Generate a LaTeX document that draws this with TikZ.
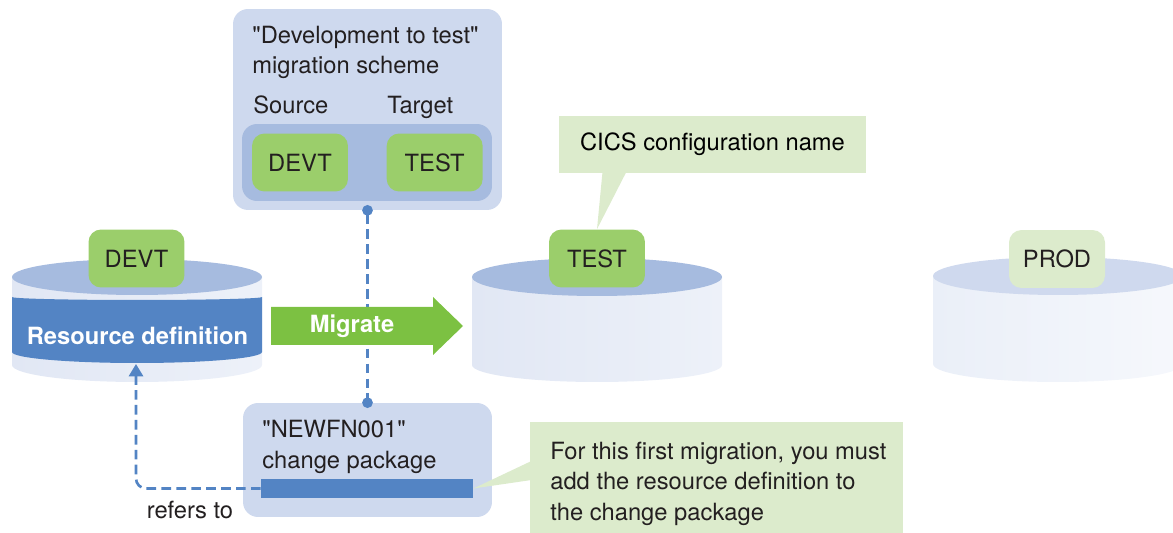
\documentclass[tikz,border=0pt]{standalone}
\usepackage{fontspec}
\setmainfont{TeX Gyre Heros}
\usetikzlibrary{arrows.meta,positioning}

\definecolor{schemeblue}{HTML}{CED9EE}
\definecolor{midblue}{HTML}{A6BBDF}
\definecolor{darkblue}{HTML}{5384C4}
\definecolor{cfggreen}{HTML}{9BCE6B}
\definecolor{palegreen}{HTML}{DCEBCC}
\definecolor{arrowgreen}{HTML}{7CC142}
\definecolor{cylleft}{HTML}{E1E7F4}
\definecolor{cylright}{HTML}{EDF1F9}
\definecolor{prodtop}{HTML}{CFD9EE}
\definecolor{prodleft}{HTML}{EAEFF8}
\definecolor{prodright}{HTML}{F6F8FC}
\definecolor{inkgray}{HTML}{231F20}

\begin{document}
\begin{tikzpicture}[x=0.02cm,y=-0.02cm,
        font=\fontsize{13.5}{17.3}\selectfont,
        txt/.style={inner sep=0pt,text=inkgray},
        boldtxt/.style={inner sep=0pt,text=white,font=\fontsize{13.5}{17.3}\selectfont\bfseries},
        cfg node/.style={rounded corners=0.25cm,fill=cfggreen,minimum width=1.92cm,minimum height=1.16cm,inner sep=0pt,text=inkgray},
        panel/.style={rounded corners=0.3cm,fill=schemeblue,inner sep=0pt},
        note/.style={fill=palegreen,inner sep=0pt},
        dashline/.style={darkblue,line width=1.5pt,dash pattern=on 5.5pt off 3pt}]

    \useasboundingbox (0,0) rectangle (1173,533);

    % migration scheme
    \node[panel,minimum width=5.38cm,minimum height=4.02cm] (scheme) at (367.5,109.5) {};
    \node[txt,anchor=base west,align=left] (schemetitle) at (252,74) {\textquotedbl Development to test\textquotedbl\\migration scheme};
    \node[txt,anchor=base west] (source) at (253,114) {Source};
    \node[txt,anchor=base west] (target) at (387,114) {Target};
    \node[rounded corners=0.3cm,fill=midblue,minimum width=5cm,minimum height=1.54cm,inner sep=0pt] (pair) at (367,162.5) {};
    \node[cfg node] (src) at (300,162.5) {DEVT};
    \node[cfg node] (tgt) [right=0.76cm of src] {TEST};

    % change package
    \node[panel,minimum width=4.98cm,minimum height=2.28cm] (pkg) at (367.5,460) {};
    \node[txt,anchor=base west,align=left] (pkgname) at (262,468) {\textquotedbl NEWFN001\textquotedbl\\change package};
    \node[fill=darkblue,minimum width=4.24cm,minimum height=0.38cm,inner sep=0pt] (bar) at (367,488.5) {};

    % DEVT cylinder
    \shade[left color=cylleft,right color=cylright] (12,277) -- (12,365) arc[start angle=180,end angle=0,x radius=125,y radius=17] -- (262,277) -- cycle;
    \fill[darkblue] (12,297) -- (12,352) arc[start angle=180,end angle=0,x radius=125,y radius=11] -- (262,297) arc[start angle=0,end angle=180,x radius=125,y radius=3] -- cycle;
    \fill[midblue] (137,277) ellipse[x radius=125,y radius=18];

    % TEST cylinder
    \shade[left color=cylleft,right color=cylright] (472,277) -- (472,365) arc[start angle=180,end angle=0,x radius=125,y radius=17] -- (722,277) -- cycle;
    \fill[midblue] (597,277) ellipse[x radius=125,y radius=19];

    % PROD cylinder
    \shade[left color=prodleft,right color=prodright] (933,276) -- (933,364) arc[start angle=180,end angle=0,x radius=125,y radius=18] -- (1183,276) -- cycle;
    \fill[prodtop] (1058,276) ellipse[x radius=125,y radius=19];

    \node[cfg node] (devt) at (136.5,258.5) {DEVT};
    \node[cfg node] (test) at (597,258.5) {TEST};
    \node[cfg node,fill=palegreen] (prod) at (1057,259) {PROD};
    \node[boldtxt] (resdef) at (137.5,336) {Resource definition};

    \draw[dashline,{Circle[length=6pt]}-{Circle[length=6pt]},shorten <=-3pt,shorten >=-3pt] (scheme) -- (pkg);

    % migrate arrow
    \fill[arrowgreen] (271,307) -- (433,307) -- (433,297) -- (463,326) -- (433,355) -- (433,345) -- (271,345) -- cycle;
    \node[boldtxt] (migrate) at (352,326.5) {Migrate};

    % refers to
    \coordinate (ref) at (136,364);
    \draw[dashline,-{Triangle[width=8pt,length=7pt]},rounded corners=0.2cm] (bar.west) -| (ref);
    \node[txt,anchor=base] (refers) at (190,518) {refers to};

    % notes
    \node[note,minimum width=6.14cm,minimum height=1.14cm] (cics) at (712.5,144.5) {CICS configuration name};
    \fill[palegreen] ([xshift=-2.2cm,yshift=1pt]cics.south) -- (test.north) -- ([xshift=-1.72cm,yshift=1pt]cics.south) -- cycle;

    \node[note,minimum width=7.46cm,minimum height=2.36cm] (hint) at (716.5,481) {};
    \fill[palegreen] ([xshift=1pt,yshift=0.4cm]hint.west) -- (bar.east) -- ([xshift=1pt,yshift=0.02cm]hint.west) -- cycle;
    \node[txt,anchor=base west,align=left] (hinttext) at (550,520) {For this first migration, you must\\add the resource definition to\\the change package};

\end{tikzpicture}
\end{document}
